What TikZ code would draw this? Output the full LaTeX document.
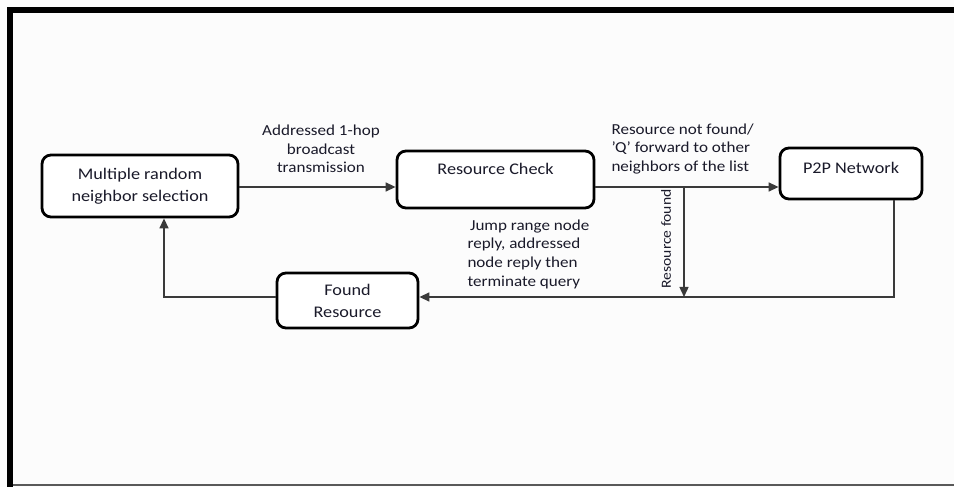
\documentclass[tikz,border=0pt]{standalone}
\usepackage{fontspec}
\setmainfont[FakeStretch=1.12]{Carlito}
\usetikzlibrary{arrows.meta}
\definecolor{linegray}{HTML}{3A3A3A}
\definecolor{txt}{HTML}{1A1A2A}
\tikzset{
  box/.style={draw=black, line width=2.8bp, rounded corners=9bp, inner sep=0pt, fill=white},
  boxfont/.style={font=\fontsize{16.3}{22}\selectfont, text=txt, align=center},
  lblfont/.style={font=\fontsize{15.3}{18.7}\selectfont, text=txt},
  conn/.style={draw=linegray, line width=1.4bp, -{Triangle[length=10bp,width=9bp]}},
  plain/.style={draw=linegray, line width=1.4bp}
}
\begin{document}
\begin{tikzpicture}[x=1bp,y=-1bp]
\useasboundingbox (0,0) rectangle (954,487);
\fill[white!99!black] (0,0) rectangle (954,487);
% frame
\draw[line width=6bp, black] (10,487) -- (10,10) -- (954,10);
\draw[line width=1.8bp, gray!70!black] (13,485) -- (954,485);
% boxes
\node[box, boxfont, minimum width=196bp, minimum height=62bp] (msel) at (140,186) {Multiple random\\neighbor selection};
\node[box, minimum width=197bp, minimum height=57bp,
      label={[boxfont, yshift=10.5bp]center:Resource Check}] (rcheck) at (495.5,179.5) {};
\node[box, minimum width=142bp, minimum height=51bp,
      label={[boxfont, yshift=5.5bp]center:P2P Network}] (p2p) at (851,173.5) {};
\node[box, boxfont, minimum width=141bp, minimum height=55bp] (found) at (347.5,300.5) {Found\\Resource};
% coordinates
\coordinate (j) at (684,187);
\coordinate (jb) at (684,297);
\coordinate (pb) at (894,297);
\coordinate (lb) at (164,297);
% connectors
\draw[conn] (msel.east |- 0,187) -- (rcheck.west |- 0,187);
\draw[conn] (rcheck.east |- 0,187) -- (p2p.west |- 0,187);
\draw[conn] (j) -- (jb);
\draw[conn] (p2p.south -| pb) -- (pb) -- (found.east |- pb);
\draw[conn] (found.west |- lb) -- (lb) -- (lb |- msel.south);
% labels
\node[lblfont, align=center] (l1) at (321,149) {Addressed 1-hop\\broadcast\\transmission};
\node[lblfont, align=left, anchor=west] (l2) at (608,149) {Resource not found/\\’Q’ forward to other\\neighbors of the list};
\node[lblfont, align=left, anchor=west] (l3) at (464,254) {\,Jump range node\\reply, addressed\\node reply then\\terminate query};
\node[lblfont, font=\fontsize{14}{16}\selectfont, rotate=90] (l4) at (666,239) {Resource found};
\end{tikzpicture}
\end{document}
